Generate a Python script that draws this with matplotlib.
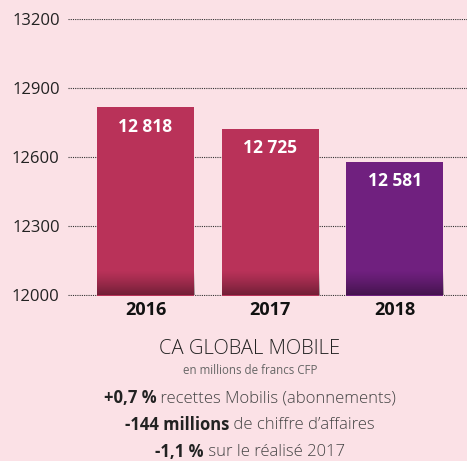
import matplotlib.pyplot as plt
import numpy as np

years = ['2016', '2017', '2018']
values = [12818, 12725, 12581]
value_labels = ['12 818', '12 725', '12 581']
bar_colors = ['#B93259', '#B93259', '#70207F']
yticks = [12000, 12300, 12600, 12900, 13200]

title = 'CA GLOBAL MOBILE'
subtitle = 'en millions de francs CFP'
notes = [('+0,7 %', ' recettes Mobilis (abonnements)'),
         ('-144 millions', ' de chiffre d\u2019affaires'),
         ('-1,1 %', ' sur le réalisé 2017')]

bg = '#FBE1E6'
plt.rcParams['font.family'] = ['Open Sans', 'DejaVu Sans']

W, H = 467, 461
fig = plt.figure(figsize=(W / 100, H / 100), dpi=100, facecolor=bg)
ax = fig.add_axes([68 / W, 1 - 295.5 / H, 1 - 68 / W, 276 / H], facecolor=bg)

x = np.arange(len(years))
width = 0.78
ax.bar(x, values, width=width, color=bar_colors, zorder=2)

# dark gradient at the foot of each bar
grad = np.zeros((64, 1, 4))
grad[:, 0, 3] = np.linspace(0.45, 0.0, 64) ** 1.2
for xi in x:
    ax.imshow(grad, extent=[xi - width / 2, xi + width / 2, 12000, 12105],
              origin='lower', aspect='auto', zorder=3, interpolation='bilinear')

for xi, v, lab in zip(x, values, value_labels):
    ax.text(xi, v - 85, lab, ha='center', va='center', color='white',
            fontsize=12.5, fontweight='bold', zorder=4)

ax.set_xlim(-0.622, 2.58)
ax.set_ylim(12000, 13200)
ax.set_yticks(yticks)
ax.set_yticklabels([str(t) for t in yticks], fontsize=12, color='#222222')
ax.set_xticks(x)
ax.set_xticklabels(years, fontsize=13, fontweight='bold', color='#111111')
ax.tick_params(axis='both', length=0)
ax.tick_params(axis='y', pad=6)
ax.tick_params(axis='x', pad=4)
ax.grid(axis='y', linestyle=(0, (1, 1)), color='#333333', linewidth=0.8, zorder=1)
ax.set_axisbelow(True)
for s in ax.spines.values():
    s.set_visible(False)

cx = 250 / W
fig.text(cx, 1 - 349 / H, title, ha='center', va='center', fontsize=14.5,
         color='#222222', fontweight='light')
fig.text(cx, 1 - 370 / H, subtitle, ha='center', va='center', fontsize=8.3,
         color='#666666')

# mixed bold / regular lines, centred as a whole
fig.canvas.draw()
r = fig.canvas.get_renderer()
for (b, rest), yp in zip(notes, [398, 425, 452]):
    y = 1 - yp / H
    tb = fig.text(0, y, b, ha='left', va='center', fontsize=12,
                  fontweight='bold', color='#222222')
    tr = fig.text(0, y, rest, ha='left', va='center', fontsize=12,
                  color='#444444', fontweight='light')
    wb = tb.get_window_extent(r).width / W
    wr = tr.get_window_extent(r).width / W
    x0 = cx - (wb + wr) / 2
    tb.set_x(x0)
    tr.set_x(x0 + wb)

fig.savefig('out.png', dpi=100, facecolor=bg)
